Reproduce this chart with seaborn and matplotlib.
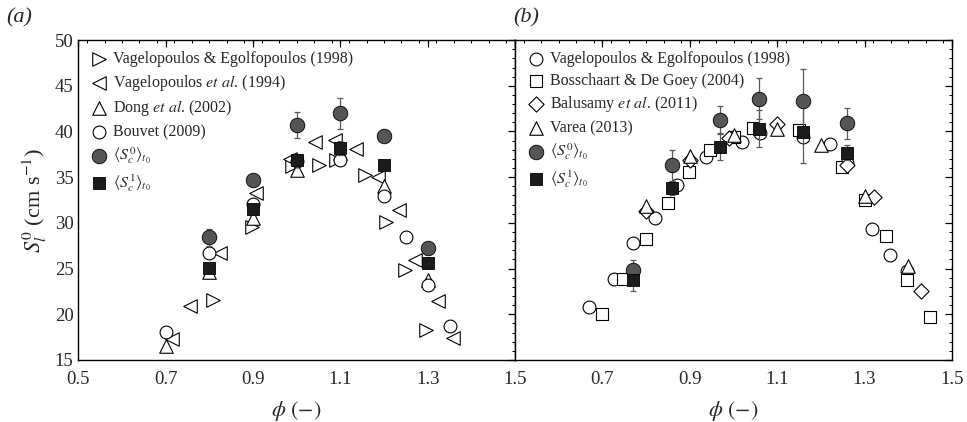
import numpy as np
import pandas as pd
import matplotlib
matplotlib.use("Agg")
import matplotlib.pyplot as plt
from matplotlib.ticker import MultipleLocator, FixedLocator, FuncFormatter
import seaborn as sns

# ---------------- Panel (a) data ----------------
va98_phi = [0.808, 0.897, 0.99, 1.05, 1.09, 1.156, 1.204, 1.248, 1.297]
va98_s = [21.6, 29.6, 36.2, 36.3, 36.9, 35.2, 30.1, 24.8, 18.3]
va94_phi = [0.714, 0.756, 0.824, 0.908, 0.985, 1.042, 1.087, 1.135, 1.187, 1.235, 1.27, 1.324, 1.357]
va94_s = [17.3, 20.9, 26.7, 33.3, 37.0, 38.9, 39.1, 38.1, 35.0, 31.4, 25.9, 21.4, 17.4]
dong_phi = [0.7, 0.8, 0.9, 1.0, 1.1, 1.2, 1.3]
dong_s = [16.55, 24.65, 30.5, 35.8, 37.6, 34.0, 23.7]
bouv_phi = [0.7, 0.8, 0.9, 1.0, 1.1, 1.2, 1.25, 1.3, 1.35]
bouv_s = [18.1, 26.7, 32.1, 36.8, 36.9, 32.9, 28.5, 23.2, 18.7]
a_c0_phi = [0.8, 0.9, 1.0, 1.1, 1.2, 1.3]
a_c0_s = [28.4, 34.7, 40.7, 42.0, 39.5, 27.2]
a_c0_err = [0.9, 0.3, 1.4, 1.7, 0.0, 0.6]
a_c1_phi = [0.8, 0.9, 1.0, 1.1, 1.2, 1.3]
a_c1_s = [25.1, 31.5, 36.9, 38.2, 36.3, 25.6]
a_c1_err = [0.5, 0.4, 0.6, 0.8, 0.4, 0.5]

# ---------------- Panel (b) data ----------------
vb98_phi = [0.67, 0.727, 0.771, 0.82, 0.87, 0.937, 1.019, 1.06, 1.16, 1.22, 1.26, 1.316, 1.357, 1.397]
vb98_s = [20.8, 23.9, 27.8, 30.5, 34.1, 37.2, 38.8, 39.8, 39.4, 38.6, 36.5, 29.3, 26.5, 24.7]
boss_phi = [0.70, 0.748, 0.80, 0.849, 0.898, 0.947, 1.0, 1.045, 1.15, 1.248, 1.30, 1.349, 1.397, 1.45]
boss_s = [20.0, 23.9, 28.2, 32.2, 35.6, 38.0, 39.4, 40.4, 40.2, 36.1, 32.5, 28.6, 23.8, 19.7]
balu_phi = [0.80, 0.90, 0.99, 1.1, 1.26, 1.322, 1.428]
balu_s = [31.3, 36.9, 39.3, 40.8, 36.3, 32.8, 22.6]
varea_phi = [0.80, 0.90, 1.0, 1.1, 1.2, 1.3, 1.4]
varea_s = [31.9, 37.3, 39.6, 40.3, 38.5, 32.9, 25.3]
b_c0_phi = [0.769, 0.859, 0.968, 1.059, 1.16, 1.259]
b_c0_s = [24.8, 36.3, 41.3, 43.6, 43.3, 40.9]
b_c0_err = [1.1, 1.7, 1.5, 2.2, 3.5, 1.7]
b_c1_phi = [0.769, 0.859, 0.968, 1.059, 1.16, 1.259]
b_c1_s = [23.7, 33.8, 38.3, 40.3, 39.9, 37.7]
b_c1_err = [1.1, 0.8, 1.4, 2.0, 3.3, 0.8]

x_ticks = [0.5, 0.7, 0.9, 1.1, 1.3, 1.5]

LEG_C0 = r"$\langle S_c^0\rangle_{t_0}$"
LEG_C1 = r"$\langle S_c^1\rangle_{t_0}$"

sns.set_theme(style="white")
plt.rcParams["font.family"] = ["Liberation Serif", "DejaVu Serif"]
plt.rcParams["mathtext.fontset"] = "stix"
plt.rcParams["xtick.direction"] = "in"
plt.rcParams["ytick.direction"] = "in"

fig = plt.figure(figsize=(9.67, 4.22), dpi=100)
axA = fig.add_axes([0.081, 0.147, 0.4516, 0.758])
axB = fig.add_axes([0.5326, 0.147, 0.4519, 0.758])

MS = 95


def open_series(ax, x, y, marker, label, s=MS):
    sns.scatterplot(x=x, y=y, ax=ax, marker=marker, s=s, facecolor="white",
                    edgecolor="black", linewidth=0.8, label=label, zorder=3)


def filled_series(ax, x, y, err, marker, color, label, s=MS):
    ax.errorbar(x, y, yerr=err, fmt="none", ecolor="0.35", elinewidth=0.9,
                capsize=2.5, capthick=0.9, zorder=4)
    sns.scatterplot(x=x, y=y, ax=ax, marker=marker, s=s, color=color,
                    edgecolor="black", linewidth=0.6, label=label, zorder=5)


open_series(axA, va98_phi, va98_s, ">", "Vagelopoulos & Egolfopoulos (1998)")
open_series(axA, va94_phi, va94_s, "<", r"Vagelopoulos $et$ $al$. (1994)")
open_series(axA, dong_phi, dong_s, "^", r"Dong $et$ $al$. (2002)")
open_series(axA, bouv_phi, bouv_s, "o", "Bouvet (2009)", s=85)
filled_series(axA, a_c0_phi, a_c0_s, a_c0_err, "o", "#555555", LEG_C0, s=110)
filled_series(axA, a_c1_phi, a_c1_s, a_c1_err, "s", "#1c1c1c", LEG_C1, s=70)

open_series(axB, vb98_phi, vb98_s, "o", "Vagelopoulos & Egolfopoulos (1998)", s=85)
open_series(axB, boss_phi, boss_s, "s", "Bosschaart & De Goey (2004)", s=65)
open_series(axB, balu_phi, balu_s, "D", r"Balusamy $et$ $al$. (2011)", s=60)
open_series(axB, varea_phi, varea_s, "^", "Varea (2013)")
filled_series(axB, b_c0_phi, b_c0_s, b_c0_err, "o", "#555555", LEG_C0, s=110)
filled_series(axB, b_c1_phi, b_c1_s, b_c1_err, "s", "#1c1c1c", LEG_C1, s=70)

for ax, lab in [(axA, "(a)"), (axB, "(b)")]:
    ax.set_xlim(0.5, 1.5)
    ax.set_ylim(15, 50)
    ax.xaxis.set_major_locator(FixedLocator(x_ticks))
    ax.xaxis.set_minor_locator(MultipleLocator(0.04))
    ax.yaxis.set_major_locator(MultipleLocator(5))
    ax.yaxis.set_minor_locator(MultipleLocator(1))
    ax.tick_params(which="both", top=True, right=True, direction="in",
                   color="black", labelsize=13.5)
    ax.tick_params(which="major", length=5, width=0.9)
    ax.tick_params(which="minor", length=2.5, width=0.7)
    ax.tick_params(axis="x", pad=8)
    for sp in ax.spines.values():
        sp.set_color("black")
        sp.set_linewidth(1.0)
    ax.set_xlabel(r"$\phi$ $(-)$", fontsize=16, labelpad=8)
    ax.text(-0.165 if ax is axA else -0.005, 1.07, lab, transform=ax.transAxes,
            fontsize=16, fontstyle="italic", ha="left", va="center")
    ax.legend(loc="upper left", frameon=False, fontsize=11.5,
              handletextpad=0.3, labelspacing=0.35, borderaxespad=0.3,
              handlelength=1.2, bbox_to_anchor=(0.0, 1.0))
    ax.grid(False)

axA.xaxis.set_major_formatter(FuncFormatter(lambda v, p: f"{v:.1f}"))
axB.xaxis.set_major_formatter(FuncFormatter(lambda v, p: "" if abs(v - 0.5) < 1e-6 else f"{v:.1f}"))
axA.set_ylabel(r"$S_l^0$ (cm s$^{-1}$)", fontsize=16, labelpad=4)
axB.set_ylabel("")
axB.tick_params(axis="y", labelleft=False)

fig.savefig("out.png", dpi=100)
